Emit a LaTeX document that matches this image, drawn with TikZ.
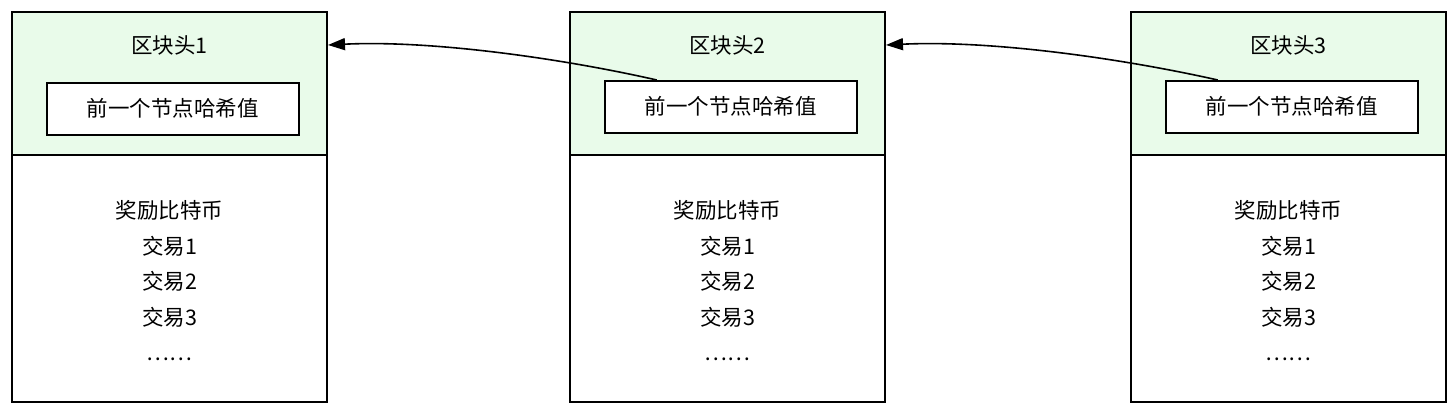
\documentclass[tikz,border=0pt]{standalone}
\usepackage{fontspec}
\setmainfont{Noto Sans CJK SC}
\usetikzlibrary{arrows.meta}
\definecolor{hdr}{HTML}{E9FBEA}
\begin{document}
\begin{tikzpicture}[x=1pt,y=-1pt,
  frame/.style={draw=black,line width=1.5pt},
  txt/.style={font=\fontsize{21.5}{24}\selectfont,inner sep=0pt},
  link/.style={-{Triangle[length=17pt,width=12pt]},line width=1.6pt}]
\useasboundingbox (0,0) rectangle (1453,407);
\foreach \i/\x/\iy in {1/12/82,2/570/80,3/1131/80}{
  \fill[hdr] (\x,12) rectangle ++(315,143);
  \draw[frame] (\x,12) rectangle ++(315,390);
  \draw[frame] (\x,155) -- ++(315,0);
  \node[txt] (t\i) at (\x+157.5,45) {区块头\i};
  \node[frame,fill=white,minimum width=252pt,minimum height=52pt,anchor=north west,txt] (p\i) at (\x+34,\iy) {前一个节点哈希值};
  \node[txt,align=center,font=\fontsize{21.5}{35.5}\selectfont] (b\i) at (\x+157.5,281) {奖励比特币\\交易1\\交易2\\交易3\\……};
  \coordinate (r\i) at (\x+316,45);
}
\draw[link] ([xshift=-74pt]p2.north) .. controls (560,58) and (430,40) .. (r1);
\draw[link] ([xshift=-74pt]p3.north) .. controls (1120,58) and (990,40) .. (r2);
\end{tikzpicture}
\end{document}
